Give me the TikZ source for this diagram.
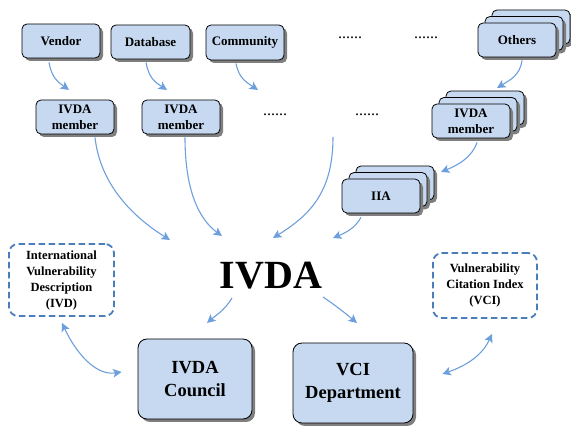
\documentclass[tikz,border=0pt]{standalone}
\usepackage{fontspec}
\setmainfont{Liberation Serif}
\usetikzlibrary{shadows,arrows.meta}
\definecolor{boxfill}{HTML}{C6D9F1}
\definecolor{arrowblue}{HTML}{6E9FDD}
\definecolor{dashblue}{HTML}{4A7EBB}
\definecolor{shadowgray}{HTML}{7F7F7F}
\tikzset{
  bx/.style={draw=black, line width=0.8pt, fill=boxfill, rounded corners=5pt,
    minimum width=78pt, minimum height=34pt, inner sep=1pt, align=center,
    font=\fontsize{13}{16}\selectfont\bfseries,
    drop shadow={shadow xshift=3pt, shadow yshift=-3pt, fill=shadowgray, opacity=1}},
  bigbx/.style={bx, rounded corners=9pt, font=\fontsize{18.5}{23}\selectfont\bfseries},
  dbx/.style={draw=dashblue, line width=1.8pt, dash pattern=on 6.5pt off 3.5pt,
    rounded corners=9pt, align=center, inner sep=1pt,
    font=\fontsize{12.5}{16}\selectfont\bfseries},
  dots/.style={font=\fontsize{16}{16}\selectfont, inner sep=0pt},
  tip/.style={},
  conn/.style={draw=arrowblue, line width=1.1pt, -{Stealth[length=8.5pt,width=8.5pt,inset=2pt]}},
  bconn/.style={conn, {Stealth[length=8.5pt,width=8.5pt,inset=2pt]}-{Stealth[length=8.5pt,width=8.5pt,inset=2pt]}}
}
\begin{document}
\begin{tikzpicture}[x=1pt,y=-1pt]
\useasboundingbox (0,0) rectangle (571,427);

% top row
\node[bx] (vendor) at (61,41) {Vendor};
\node[bx, minimum width=79pt] (database) at (150.5,42) {Database};
\node[bx, minimum height=35pt] (community) at (245,42.5) {Community};
\node[dots] (dots1) at (350,38) {......};
\node[dots] (dots2) at (426,38) {......};
\node[bx] (othersC) at (531,27) {};
\node[bx] (othersB) at (524,33.5) {};
\node[bx] (others) at (517,40) {Others};

% second row
\node[bx] (member1) at (75,117) {IVDA\\member};
\node[bx] (member2) at (181,117) {IVDA\\member};
\node[dots] (dots3) at (275,115) {......};
\node[dots] (dots4) at (367,115) {......};
\node[bx] (memberC) at (485,108) {};
\node[bx] (memberB) at (478,114.5) {};
\node[bx] (memberS) at (471,121) {IVDA\\member};

% IIA
\node[bx] (iiaC) at (395,183) {};
\node[bx] (iiaB) at (388,189.5) {};
\node[bx] (iia) at (381,196) {IIA};

% center
\node[font=\fontsize{40}{40}\selectfont\bfseries, inner sep=0pt] (ivda) at (271,276) {IVDA};

% dashed boxes
\node[dbx, minimum width=105pt, minimum height=72pt] (ivd) at (61.5,280) {International\\Vulnerability\\Description\\(IVD)};
\node[dbx, minimum width=104pt, minimum height=65pt] (vci) at (485,285.5) {Vulnerability\\Citation Index\\(VCI)};

% bottom boxes
\node[bigbx, minimum width=114pt, minimum height=80pt] (council) at (195,379) {IVDA\\Council};
\node[bigbx, minimum width=120pt, minimum height=80pt] (vcidept) at (353,383) {VCI\\Department};

% free arrow ends
\coordinate (t1) at (69,90);
\coordinate (t2) at (167,90);
\coordinate (t3) at (258,90);
\coordinate (t4) at (497,88);
\coordinate (t5) at (441,172);
\coordinate (t6) at (333,238);
\coordinate (t7) at (273,238);
\coordinate (t8) at (170,240);
\coordinate (t9) at (222,236);
\coordinate (t10) at (207,323);
\coordinate (t11) at (357,323);

% connectors
\draw[conn] ([shift={(-12,4)}]vendor.south) .. controls +(3,16) and +(-11,-8) .. (t1);
\draw[conn] ([shift={(-4.5,3)}]database.south) .. controls +(3,16) and +(-12,-8) .. (t2);
\draw[conn] ([shift={(-9,3)}]community.south) .. controls +(3,15) and +(-12,-8) .. (t3);
\draw[conn] ([shift={(5,3)}]others.south) .. controls +(-2,15) and +(13,-8) .. (t4);
\draw[conn] ([shift={(6,4)}]memberS.south) .. controls +(-5,15) and +(17,-7) .. (t5);
\draw[conn] ([shift={(-20,4)}]iia.south) .. controls +(-6,11) and +(12,-5) .. (t6);
\draw[conn] ([shift={(-34,22)}]dots4.center) .. controls +(0,55) and +(37,-23) .. (t7);
\draw[conn] ([shift={(20,3)}]member1.south) .. controls +(5,45) and +(-40,-25) .. (t8);
\draw[conn] ([shift={(4,3)}]member2.south) .. controls +(0,55) and +(-22,-16) .. (t9);
\draw[conn] ([shift={(-39,22)}]ivda.center) .. controls +(-7,12) and +(8,-7) .. (t10);
\draw[conn] ([shift={(52,21)}]ivda.center) .. controls +(12,8) and +(-12,-10) .. (t11);
\draw[bconn] ([shift={(0.5,6)}]ivd.south) .. controls +(13,28) and +(-27,4) .. ([shift={(-16,-7)}]council.west);
\draw[bconn] ([shift={(7,15)}]vci.south) .. controls +(-10,22) and +(23,-8) .. ([shift={(29,-9)}]vcidept.east);
\end{tikzpicture}
\end{document}
